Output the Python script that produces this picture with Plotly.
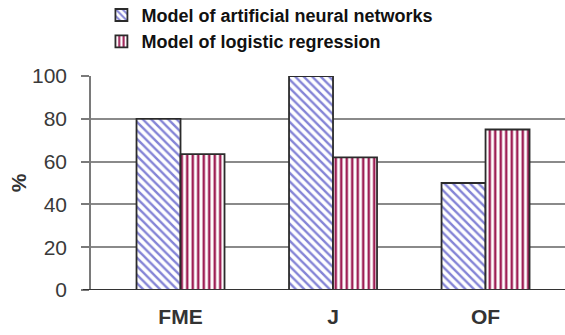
import plotly.graph_objects as go

categories = ["FME", "J", "OF"]
ann_values = [80, 100, 50]
lr_values = [63.5, 62, 75]
series_names = ["Model of artificial neural networks", "Model of logistic regression"]
y_ticks = [0, 20, 40, 60, 80, 100]

fig = go.Figure()
fig.add_trace(go.Bar(
    x=categories, y=ann_values, name=series_names[0],
    marker=dict(color="white", line=dict(color="#2b2b2b", width=1.8),
                pattern=dict(shape="\\", fgcolor="#8484d6", bgcolor="white",
                             size=6, solidity=0.4, fillmode="replace", fgopacity=1)),
))
fig.add_trace(go.Bar(
    x=categories, y=lr_values, name=series_names[1],
    marker=dict(color="white", line=dict(color="#2b2b2b", width=1.8),
                pattern=dict(shape="|", fgcolor="#9e1f55", bgcolor="white",
                             size=5.5, solidity=0.45, fillmode="replace", fgopacity=1)),
))

font_family = "Liberation Sans, Arial, sans-serif"

fig.update_layout(
    width=565, height=335,
    margin=dict(l=91, r=0, t=76, b=45, autoexpand=False),
    paper_bgcolor="white", plot_bgcolor="white",
    barmode="group", bargap=0.423, bargroupgap=0,
    font=dict(family=font_family, color="#3a3a3a"),
    showlegend=True,
    legend=dict(x=0.022, y=1.37, xanchor="left", yanchor="top",
                font=dict(size=18, color="#111111", family=font_family, weight="bold"),
                bgcolor="rgba(0,0,0,0)", tracegroupgap=0, itemwidth=30,
                traceorder="normal"),
    xaxis=dict(range=[-0.587, 2.521], showgrid=False, showline=False, automargin=False,
               ticks="", tickfont=dict(size=21, color="#333333", weight="bold"),
               ticklabelstandoff=12, zeroline=False),
    yaxis=dict(range=[0, 100], tickvals=y_ticks, showgrid=True, gridcolor="#8a8a8a",
               gridwidth=1.5, showline=True, linecolor="#7a7a7a", linewidth=1.5,
               ticks="outside", ticklen=8, tickcolor="#7a7a7a", tickwidth=1.5,
               automargin=False, ticklabelstandoff=10,
               tickfont=dict(size=21, color="#3a3a3a"), zeroline=False,
               title=dict(text="%", font=dict(size=21, color="#333333", weight="bold"), standoff=0)),
)

# dark baseline at zero
fig.add_shape(type="line", xref="paper", yref="y", x0=-0.017, x1=1, y0=0, y1=0,
              line=dict(color="#333333", width=2.2), layer="above")

fig.write_html("out.html", config={"displayModeBar": False},
               post_script="document.body.style.margin='0';document.body.style.overflow='hidden';")
